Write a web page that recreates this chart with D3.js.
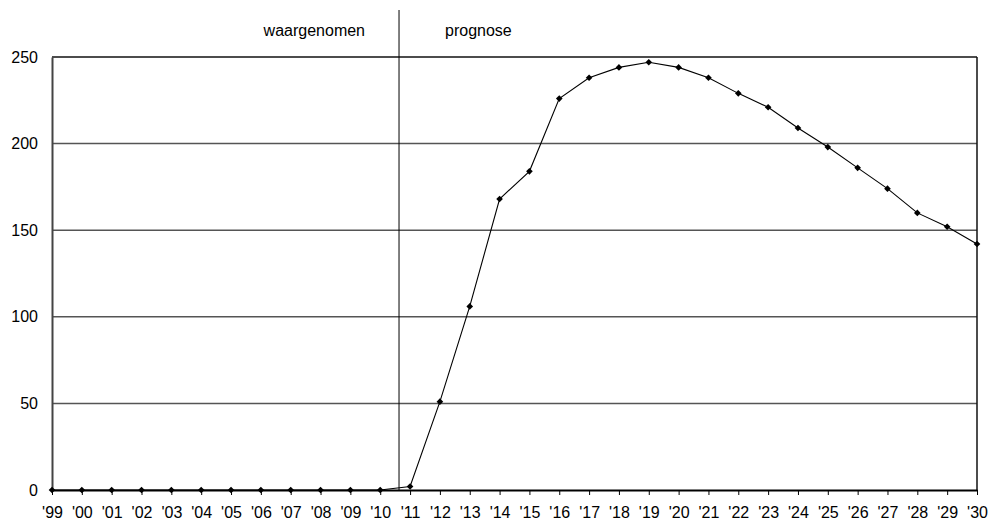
<!DOCTYPE html>
<html><head><meta charset="utf-8">
<script src="https://cdn.jsdelivr.net/npm/d3@7"></script>
<style>body{margin:0;background:#fff;}svg{display:block;}text{font-family:"Liberation Sans",Arial,sans-serif;font-size:16px;fill:#000;}</style>
</head><body>
<script>
const categories = ["'99","'00","'01","'02","'03","'04","'05","'06","'07","'08","'09","'10","'11","'12","'13","'14","'15","'16","'17","'18","'19","'20","'21","'22","'23","'24","'25","'26","'27","'28","'29","'30"];
const values = [0,0,0,0,0,0,0,0,0,0,0,0,2,51,106,168,184,226,238,244,247,244,238,229,221,209,198,186,174,160,152,142];
const yTicks = [0,50,100,150,200,250];
const splitPos = 11.63;
const labelLeft = "waargenomen", labelRight = "prognose";

(function(){
const W=995,H=531, mL=52, mR=977, mT=57, mB=490;
const FONT="Liberation Sans, Arial, sans-serif";
const svg=d3.select("body").append("svg").attr("width",W).attr("height",H);
const x=d3.scaleLinear().domain([0,categories.length-1]).range([mL,mR]);
const y=d3.scaleLinear().domain([0,250]).range([mB,mT]);

// gridlines
svg.append("g").selectAll("line").data(yTicks.filter(d=>d>0)).join("line")
  .attr("x1",mL).attr("x2",mR).attr("y1",d=>y(d)).attr("y2",d=>y(d))
  .attr("stroke",d=>d===250?"#111":"#555").attr("stroke-width",1.5);
// right border
svg.append("line").attr("x1",mR).attr("x2",mR).attr("y1",mT).attr("y2",mB).attr("stroke","#111").attr("stroke-width",1.5);

// y axis
const ya=svg.append("g").attr("transform",`translate(${mL},0)`).call(d3.axisLeft(y).tickValues(yTicks).tickSize(0).tickPadding(14));
ya.attr("font-size",16).attr("font-family",FONT);
ya.select(".domain").attr("stroke","#444").attr("stroke-width",2);

// x axis
const xa=svg.append("g").attr("transform",`translate(0,${mB})`)
  .call(d3.axisBottom(x).tickValues(d3.range(categories.length)).tickFormat(i=>categories[i]).tickSize(5).tickSizeOuter(0).tickPadding(12));
xa.attr("font-size",16).attr("font-family",FONT);
xa.select(".domain").attr("stroke","#000").attr("stroke-width",2);
xa.selectAll("line").attr("stroke","#000");

// split line
svg.append("line").attr("x1",x(splitPos)).attr("x2",x(splitPos)).attr("y1",10).attr("y2",mB).attr("stroke","#000").attr("stroke-width",1);
svg.append("text").attr("x",x(splitPos)-34).attr("y",36).attr("text-anchor","end").text(labelLeft);
svg.append("text").attr("x",x(splitPos)+46).attr("y",36).attr("text-anchor","start").text(labelRight);

// line
svg.append("path").datum(values).attr("fill","none").attr("stroke","#000").attr("stroke-width",1.1)
  .attr("d",d3.line().x((d,i)=>x(i)).y(d=>y(d)));
svg.append("g").selectAll("path").data(values).join("path")
  .attr("transform",(d,i)=>`translate(${x(i)},${y(d)}) rotate(45)`)
  .attr("d",d3.symbol(d3.symbolSquare,22)).attr("fill","#000");
})();
</script>
</body></html>
